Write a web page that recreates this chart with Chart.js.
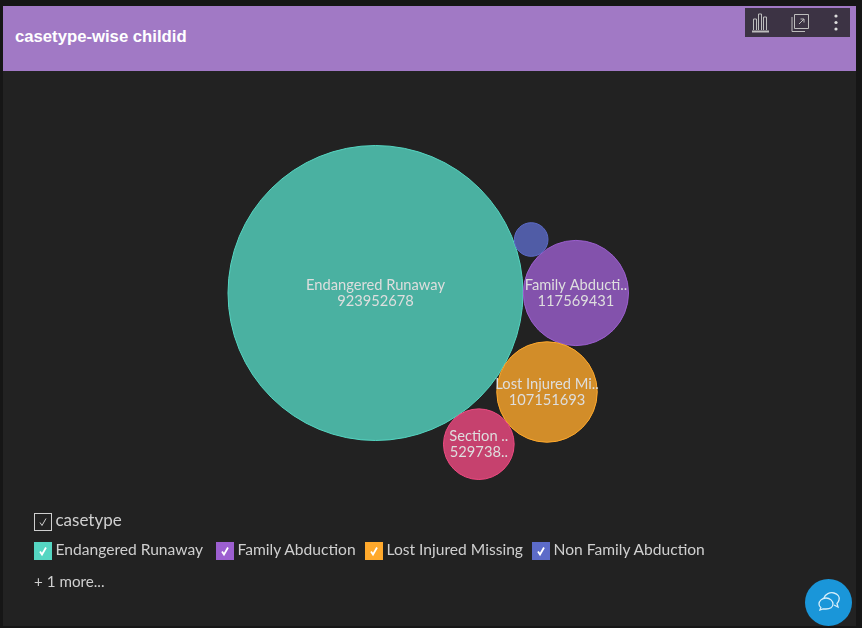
<!DOCTYPE html>
<html>
<head>
<meta charset="utf-8">
<script src="https://cdn.jsdelivr.net/npm/chart.js@4"></script>
<style>
html,body{margin:0;padding:0;background:#151515;overflow:hidden}
#page{position:relative;width:862px;height:628px;background:#161616;font-family:Lato,"Open Sans",sans-serif;overflow:hidden}
#panel{position:absolute;left:3px;top:6px;width:853px;height:620px;background:#222}
#head{position:absolute;left:3px;top:6px;width:853px;height:65px;background:#a179c5}
#title{position:absolute;left:12px;top:21px;font:bold 16.7px "Liberation Sans",Arial,sans-serif;color:#fff;line-height:20px}
#tools{position:absolute;left:745px;top:8px;width:105px;height:29px;background:#3c3344}
#tools svg{position:absolute;left:0;top:0}
canvas{position:absolute;left:0;top:0}
.box{position:absolute;width:18px;height:18px;box-sizing:border-box}
.box svg{position:absolute;left:0;top:0}
.lab{position:absolute;color:#cfcfcf;font-size:15.6px;line-height:18px;white-space:nowrap}
#chat{position:absolute;left:805px;top:579px;width:47px;height:47px;border-radius:50%;background:#1a96d9}
</style>
</head>
<body>
<div id="page">
<div id="panel"></div>
<canvas id="c" width="862" height="628"></canvas>
<div id="head"><div id="title">casetype-wise childid</div></div>
<div id="tools">
<svg width="105" height="29" fill="none" stroke="#bdbdbd" stroke-width="1">
<path d="M8.500 22V11h3v11M13.500 22V6h3v16M18.500 22V9h3v13"/><path d="M7 23.500h17" stroke-width="2"/>
<path d="M47 9v14.500h13M49.500 6.500h14v14h-14z"/><path d="M54 16l5-5M55.500 11h3.500v3.500"/>
<circle cx="91" cy="8" r="1.6" fill="#ddd" stroke="none"/><circle cx="91" cy="14.500" r="1.6" fill="#ddd" stroke="none"/><circle cx="91" cy="21" r="1.6" fill="#ddd" stroke="none"/>
</svg>
</div>
<div id="legend"></div>
<div class="lab" style="left:34px;top:572px;font-size:15.2px">+ 1 more...</div>
<div id="chat"><svg width="47" height="47" fill="none" stroke="#d6eefa" stroke-width="1.3">
<path d="M19 19c1-4 6-6 10-5 4 1 6 4 5 7-.4 1.500-1 2.500-2 3.500l1 3.500-4-2"/>
<path d="M14 25c0-3 3-6 7-6s7 3 7 6-3 5-7 5h-3l-3 1 .8-2.500C14.500 27.500 14 26.500 14 25z"/>
</svg></div>
</div>
<script>
const categories = ["Endangered Runaway","Family Abduction","Lost Injured Missing","Section","Non Family Abduction"];
const childCounts = [923952678,117569431,107151693,52973800,12000000];
const bubbleTitles = ["Endangered Runaway","Family Abducti..","Lost Injured Mi..","Section ..",""];
const bubbleValues = ["923952678","117569431","107151693","529738..",""];
const baseColours = ["#55d6c2","#9c5fd0","#ffa92c","#f04a82","#5c6bc8"];
const legendCategories = ["Endangered Runaway","Family Abduction","Lost Injured Missing","Non Family Abduction"];
const legendColours = ["#55d6c2","#9c5fd0","#ffa92c","#5c6bc8"];
const legendLefts = [34,216,365,532];
const legendTitle = "casetype";

const radiusFactor = 147.5 / Math.sqrt(childCounts[0]);
const radii = childCounts.map(v => Math.sqrt(v) * radiusFactor);
const gap = 0.3;

function tangent(a, b, r, side) {
  const da = a.r + r + gap, db = b.r + r + gap;
  const dx = b.x - a.x, dy = b.y - a.y, d = Math.hypot(dx, dy);
  const t = (da * da - db * db + d * d) / (2 * d);
  const h = Math.sqrt(Math.max(0, da * da - t * t));
  return { x: a.x + (t * dx - side * h * dy) / d, y: a.y + (t * dy + side * h * dx) / d, r };
}
const packed = [];
packed[0] = { x: 0, y: 0, r: radii[0] };
packed[1] = { x: radii[0] + radii[1] + gap, y: 0, r: radii[1] };
packed[2] = tangent(packed[0], packed[1], radii[2], 1);
packed[3] = tangent(packed[0], packed[2], radii[3], 1);
packed[4] = tangent(packed[0], packed[1], radii[4], -1);

function hexA(h, a) {
  const n = parseInt(h.slice(1), 16);
  return `rgba(${n >> 16},${(n >> 8) & 255},${n & 255},${a})`;
}

const bubbleLabels = {
  id: "bubbleLabels",
  afterDatasetsDraw(chart) {
    const ctx = chart.ctx, meta = chart.getDatasetMeta(0);
    ctx.save();
    ctx.font = '14.7px Lato, "Open Sans", sans-serif';
    ctx.fillStyle = "#dedede";
    ctx.textAlign = "center";
    ctx.textBaseline = "middle";
    meta.data.forEach((el, i) => {
      if (!bubbleTitles[i]) return;
      ctx.fillText(bubbleTitles[i], el.x, el.y - 8);
      ctx.fillText(bubbleValues[i], el.x, el.y + 8);
    });
    ctx.restore();
  }
};

new Chart(document.getElementById("c"), {
  type: "bubble",
  data: {
    labels: categories,
    datasets: [{
      label: legendTitle,
      data: packed.map(p => ({ x: p.x, y: p.y, r: p.r })),
      backgroundColor: baseColours.map(c => hexA(c, 0.8)),
      borderColor: baseColours,
      borderWidth: 1,
      hoverBorderWidth: 1
    }]
  },
  options: {
    responsive: false,
    animation: false,
    layout: { padding: 0, autoPadding: false },
    clip: false,
    scales: {
      x: { type: "linear", display: false, min: -375.5, max: 486.5 },
      y: { type: "linear", display: false, reverse: true, min: -293, max: 335 }
    },
    plugins: { legend: { display: false }, tooltip: { enabled: false } }
  },
  plugins: [bubbleLabels]
});

const legend = document.getElementById("legend");
function addBox(left, top, colour, text, outline) {
  const b = document.createElement("div");
  b.className = "box";
  b.style.left = left + "px"; b.style.top = top + "px";
  if (outline) b.style.border = "1px solid #cfcfcf"; else b.style.background = colour;
  const off = outline ? -1 : 0;
  b.innerHTML = `<svg width="18" height="18" style="left:${off}px;top:${off}px" fill="none" stroke="${outline ? '#cfcfcf' : '#fff'}" stroke-width="${outline ? 1 : 1.8}"><path d="M6 9.500l2 3 4-7"/></svg>`;
  legend.appendChild(b);
  const t = document.createElement("div");
  t.className = "lab";
  t.style.left = (left + 21.500) + "px"; t.style.top = (top - 2) + "px";
  t.textContent = text;
  if (outline) t.style.fontSize = "17px";
  legend.appendChild(t);
}
addBox(34, 513, "", legendTitle, true);
legendCategories.forEach((n, i) => addBox(legendLefts[i], 542, legendColours[i], n, false));
</script>
</body>
</html>
